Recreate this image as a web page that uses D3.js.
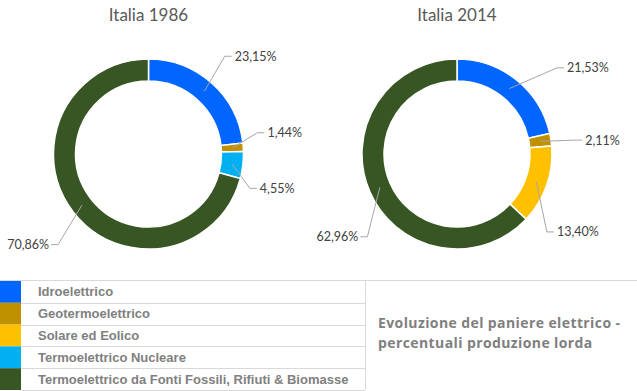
<!DOCTYPE html>
<html>
<head>
<meta charset="utf-8">
<script src="https://cdn.jsdelivr.net/npm/d3@7"></script>
<style>
  body { margin:0; background:#fff; }
  svg { display:block; }
</style>
</head>
<body>
<svg width="637" height="391"></svg>
<script>
// data
const categories = ["Idroelettrico","Geotermoelettrico","Solare ed Eolico","Termoelettrico Nucleare","Termoelettrico da Fonti Fossili, Rifiuti & Biomasse"]
const colors = ["#0066ff","#bf9000","#ffc000","#00b0f0","#375623"]
const years = ["Italia 1986","Italia 2014"]
const values1986 = [23.15, 1.44, 0, 4.55, 70.86]
const values2014 = [21.53, 2.11, 13.40, 0, 62.96]
const note = ["Evoluzione del paniere elettrico -","percentuali produzione lorda"]

// label placement (angle nudge in degrees, radius) like excel puts them
const labelLayout = [
  [[-3.7,124],[-7,111],[0,0],[12,107],[-7.5,128]],
  [[10.5,132],[2,119],[21.7,119],[0,0],[-19.4,122]]
]

const svg = d3.select("svg")
const W = 637, H = 391
const rOut = 95, rIn = 73
const centers = [[148.5,154],[457,154]]
const fmt = v => d3.format(".2f")(v).replace(".",",") + "%"

const pie = d3.pie().sort(null).value(d=>d.v)
const arc = d3.arc().innerRadius(rIn).outerRadius(rOut)
const polar = (a,r)=>[Math.sin(a)*r, -Math.cos(a)*r]

;[values1986, values2014].forEach((vals, ci)=>{
  let [cx,cy] = centers[ci]
  let g = svg.append("g").attr("transform",`translate(${cx},${cy})`)
  g.append("text").attr("x",0).attr("y",-133)
    .attr("text-anchor","middle")
    .style("font-family","Lato, 'Open Sans', sans-serif").style("font-size","17px").style("fill","#595959")
    .text(years[ci])
  let data = pie(vals.map((v,i)=>({v, i})))
  g.selectAll("path").data(data).enter().append("path")
    .attr("d", arc)
    .attr("fill", d=>colors[d.data.i])
    .attr("stroke","#fff").attr("stroke-width",1.5)
  //labels
  let lab = data.filter(d=>d.data.v>0)
  lab.forEach(d=>{
    let mid = (d.startAngle+d.endAngle)/2
    let [nudge, R] = labelLayout[ci][d.data.i]
    let s = polar(mid, (rIn+rOut)/2)
    let e = polar(mid + nudge*Math.PI/180, R)
    let right = e[0] > 0
    let hx = e[0] + (right ? 7 : -7)
    g.append("polyline")
      .attr("points", [s, e, [hx, e[1]]].map(p=>p.join(",")).join(" "))
      .attr("fill","none").attr("stroke","#a6a6a6").attr("stroke-width",1)
    g.append("text")
      .attr("x", hx + (right ? 3 : -2)).attr("y", e[1])
      .attr("dy","0.35em")
      .attr("text-anchor", right ? "start" : "end")
      .style("font-family","Lato, 'Open Sans', sans-serif").style("font-size","12.5px").style("fill","#404040")
      .text(fmt(d.data.v))
  })
})

// legend table
const tTop = 281, tBottom = 390, tableW = 365, sw = 21
const y = d3.scaleBand().domain(categories).range([tTop, tBottom])
let lg = svg.append("g").attr("class","legend")
lg.selectAll("rect").data(categories).enter().append("rect")
  .attr("x",0).attr("y",d=>y(d)).attr("width",sw).attr("height",y.bandwidth())
  .attr("fill",(d,i)=>colors[i])
lg.selectAll("line.row").data(categories).enter().append("line").attr("class","row")
  .attr("x1",sw).attr("x2",tableW)
  .attr("y1",d=>Math.round(y(d)+y.bandwidth())+0.5).attr("y2",d=>Math.round(y(d)+y.bandwidth())+0.5)
  .attr("stroke","#d9d9d9")
lg.append("line").attr("x1",0).attr("x2",W).attr("y1",tTop-0.5).attr("y2",tTop-0.5).attr("stroke","#d9d9d9")
lg.append("line").attr("x1",tableW+0.5).attr("x2",tableW+0.5).attr("y1",tTop).attr("y2",tBottom).attr("stroke","#d9d9d9")
lg.selectAll("text").data(categories).enter().append("text")
  .attr("x",38).attr("y",d=>y(d)+y.bandwidth()/2).attr("dy","0.35em")
  .style("font-family","'Liberation Sans', Arial, sans-serif").style("font-size","13px").style("font-weight","bold")
  .style("fill","#808080")
  .text(d=>d)

// note
svg.append("g").selectAll("text").data(note).enter().append("text")
  .attr("x",378).attr("y",(d,i)=>328+i*20)
  .style("font-family","'Open Sans', Lato, sans-serif").style("font-size","14px").style("font-weight","bold")
  .style("letter-spacing","0.4px")
  .style("fill","#7f7f7f")
  .text(d=>d)
</script>
</body>
</html>
